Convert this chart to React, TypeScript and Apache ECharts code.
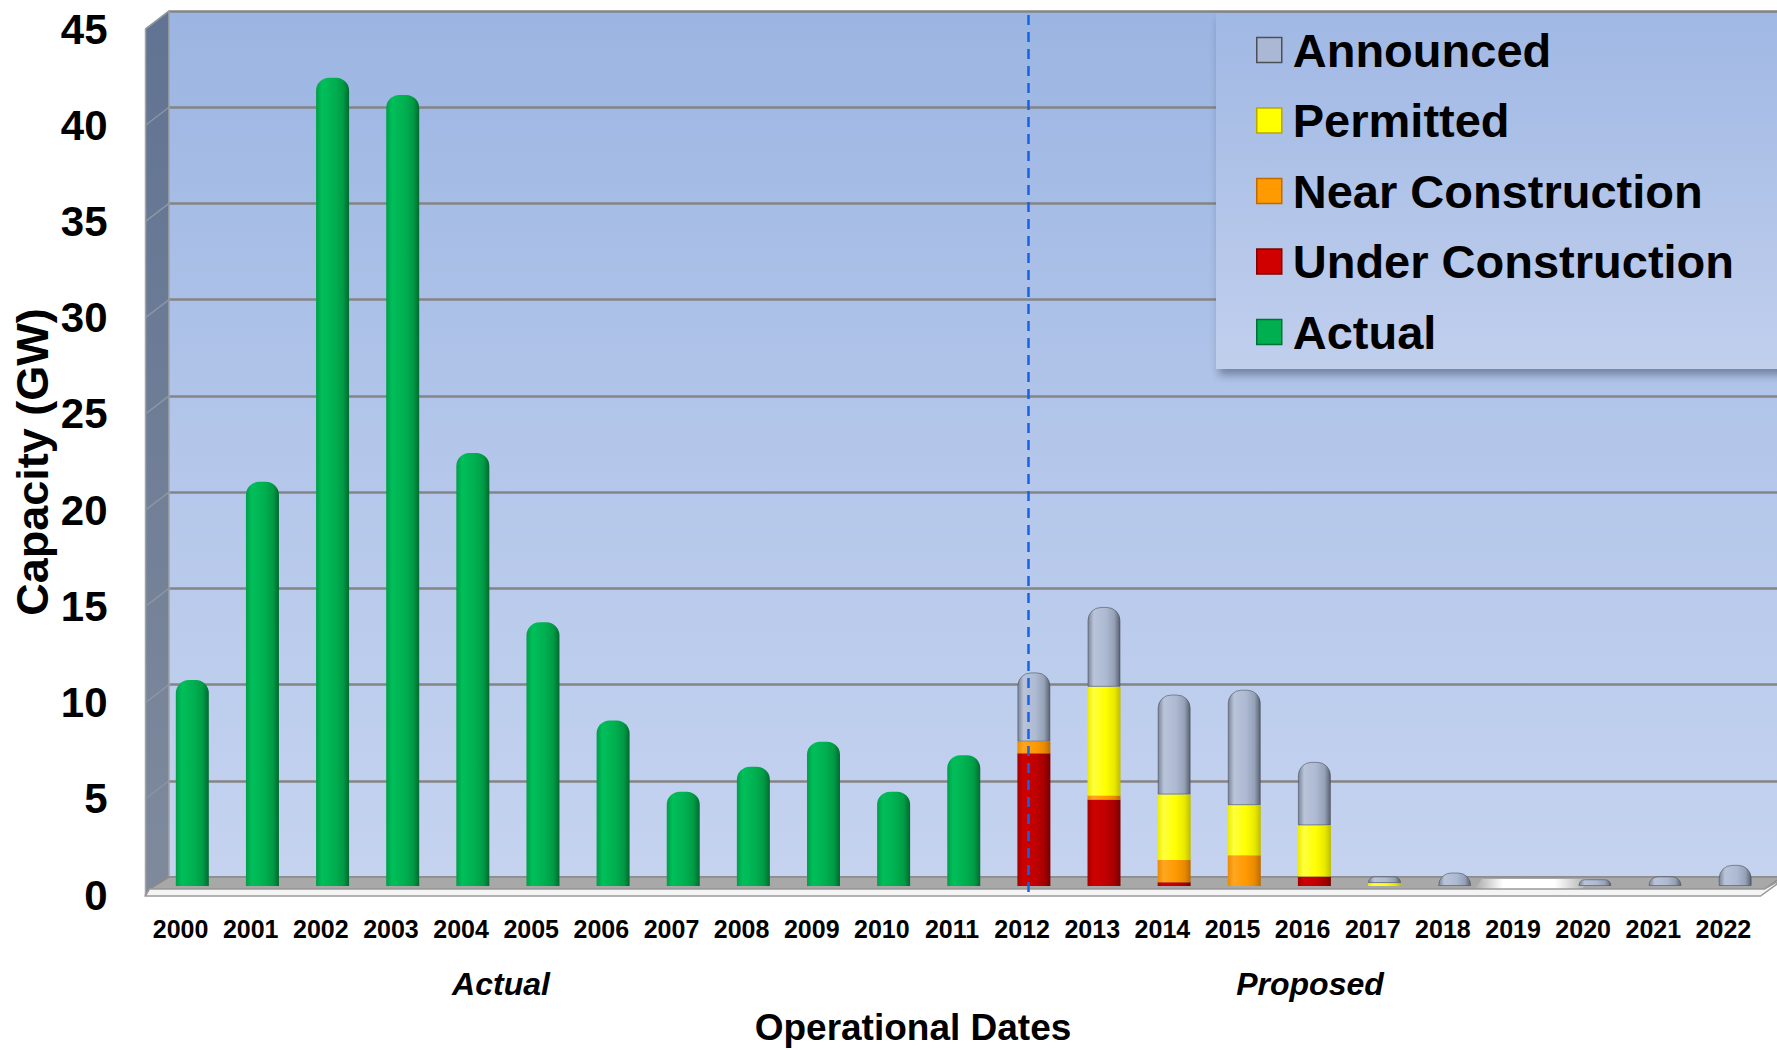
import React, { useEffect, useRef } from "react";
import * as echarts from "echarts";

// ---------- data ----------
const years = [
  "2000", "2001", "2002", "2003", "2004", "2005", "2006", "2007", "2008", "2009", "2010", "2011",
  "2012", "2013", "2014", "2015", "2016", "2017", "2018", "2019", "2020", "2021", "2022",
];
const actual = [10.7, 21.0, 42.0, 41.1, 22.5, 13.7, 8.6, 4.9, 6.2, 7.5, 4.9, 6.8,
  null, null, null, null, null, null, null, null, null, null, null];
const underConstruction = [null, null, null, null, null, null, null, null, null, null, null, null,
  6.9, 4.5, 0.2, null, 0.5, null, null, null, null, null, null];
const nearConstruction = [null, null, null, null, null, null, null, null, null, null, null, null,
  0.6, 0.2, 1.15, 1.6, null, null, null, null, null, null, null];
const permitted = [null, null, null, null, null, null, null, null, null, null, null, null,
  null, 5.65, 3.4, 2.6, 2.65, 0.15, null, null, null, null, null];
const announced = [null, null, null, null, null, null, null, null, null, null, null, null,
  3.6, 4.15, 5.2, 6.0, 3.3, 0.35, 0.7, null, 0.35, 0.5, 1.1];
const legendOrder = ["Announced", "Permitted", "Near Construction", "Under Construction", "Actual"];
const yMax = 45;
const yStep = 5;

// ---------- layout ----------
const W = 1777;
const H = 1050;
const BACK_L = 169;
const BACK_TOP = 11;
const BACK_BOTTOM = 877;
const DX = 23.5;
const DY = 18;
const FRONT_L = BACK_L - DX;
const PLOT_W = 1613;
const PLOT_H = BACK_BOTTOM - BACK_TOP;
const FONT = 'Arial, "Liberation Sans", Helvetica, sans-serif';

function cyl(c: string[]) {
  return new echarts.graphic.LinearGradient(0, 0, 1, 0, [
    { offset: 0, color: c[0] },
    { offset: 0.18, color: c[1] },
    { offset: 0.55, color: c[2] },
    { offset: 0.82, color: c[3] },
    { offset: 1, color: c[4] },
  ]);
}

const GREEN = ["#009e48", "#00bf5a", "#00b050", "#009a45", "#006a30"];
const RED = ["#a30000", "#cf0000", "#c00000", "#a40000", "#760000"];
const ORANGE = ["#ec8a00", "#ffa620", "#ff9900", "#e88a00", "#b86a00"];
const YELLOW = ["#ecec00", "#ffff40", "#ffff00", "#e8e800", "#bdbd00"];
const GREY = ["#7a8598", "#b9c4da", "#aebad2", "#95a1b6", "#5a6270"];

export default function App() {
  const ref = useRef<HTMLDivElement>(null);
  useEffect(() => {
    const chart = echarts.init(ref.current!, null, { renderer: "svg" });

    const sideLines: any[] = [];
    for (let v = 0; v <= yMax; v += yStep) {
      const y = BACK_BOTTOM - (v / yMax) * PLOT_H;
      sideLines.push({
        type: "line",
        z: 1,
        shape: { x1: BACK_L, y1: y, x2: FRONT_L, y2: y + DY },
        style: { stroke: "#8d95a3", lineWidth: 1.5 },
      });
    }

    const frontBottom = BACK_BOTTOM + DY + 1;
    const floorFrontTop = BACK_BOTTOM + 12;
    const frontR = FRONT_L + PLOT_W;

    const bar = (name: string, data: any[], colors: string[], top: boolean, extra: any = {}) => ({
      name,
      type: "bar",
      stack: "cap",
      xAxisIndex: 2,
      yAxisIndex: 2,
      barWidth: 33,
      z: 3,
      data,
      itemStyle: {
        color: cyl(colors),
        borderRadius: top ? [13, 13, 0, 0] : 0,
        ...extra,
      },
    });

    const option: any = {
      animation: false,
      backgroundColor: "#ffffff",
      textStyle: { fontFamily: FONT },
      grid: [
        {
          left: BACK_L, top: BACK_TOP, width: W - BACK_L + 10, height: PLOT_H,
          show: true, borderWidth: 0,
          backgroundColor: new echarts.graphic.LinearGradient(0, 0, 0, 1, [
            { offset: 0, color: "#9bb5e2" },
            { offset: 0.5, color: "#b3c6ea" },
            { offset: 1, color: "#c5d3ef" },
          ]),
        },
        { left: FRONT_L, top: BACK_TOP + DY, width: PLOT_W, height: PLOT_H },
        { left: FRONT_L + DX / 2, top: BACK_TOP + DY / 2, width: PLOT_W, height: PLOT_H },
        { left: FRONT_L + 6, top: 13, width: PLOT_W, height: 879 },
      ],
      xAxis: [
        { gridIndex: 0, type: "category", data: years, show: false },
        {
          gridIndex: 1, type: "category", data: years, boundaryGap: true,
          axisLine: { show: true, lineStyle: { color: "#8c8c8c", width: 2 } },
          axisTick: { show: true, inside: true, length: 8, lineStyle: { color: "#9a9a9a", width: 1.5 } },
          axisLabel: {
            interval: 0, margin: 21, color: "#000",
            fontSize: 25, fontWeight: "bold", fontFamily: FONT,
          },
        },
        { gridIndex: 2, type: "category", data: years, show: false },
        { gridIndex: 3, type: "category", data: years, show: false },
      ],
      yAxis: [
        {
          gridIndex: 0, type: "value", min: 0, max: yMax, interval: yStep,
          axisLine: { show: false }, axisTick: { show: false }, axisLabel: { show: false },
          splitLine: { show: true, lineStyle: { color: "#858585", width: 2.5 } },
        },
        {
          gridIndex: 1, type: "value", min: 0, max: yMax, interval: yStep,
          axisLine: { show: false }, axisTick: { show: false }, splitLine: { show: false },
          axisLabel: {
            margin: 38, color: "#000", fontSize: 42, fontWeight: "bold", fontFamily: FONT,
          },
        },
        { gridIndex: 2, type: "value", min: 0, max: yMax, show: false, splitLine: { show: false } },
        { gridIndex: 3, type: "value", min: 0, max: 1, show: false, splitLine: { show: false } },
      ],
      legend: {
        orient: "vertical",
        left: 1216,
        top: 13,
        padding: [12, 90, 12, 40],
        itemWidth: 25,
        itemHeight: 25,
        itemGap: 20.5,
        icon: "rect",
        selectedMode: false,
        backgroundColor: new echarts.graphic.LinearGradient(0, 0, 0, 1, [
          { offset: 0, color: "#a0b8e4" },
          { offset: 1, color: "#c1cfed" },
        ]),
        shadowColor: "rgba(40,50,70,0.45)",
        shadowBlur: 8,
        shadowOffsetX: 3,
        shadowOffsetY: 6,
        textStyle: {
          color: "#000", fontSize: 47, fontWeight: "bold", fontFamily: FONT,
          lineHeight: 50, padding: [0, 0, 0, 6],
        },
        data: [
          { name: "Announced", itemStyle: { color: "#aab8d3", borderColor: "#4a4f58", borderWidth: 1.5 } },
          { name: "Permitted", itemStyle: { color: "#ffff00", borderColor: "#b8a800", borderWidth: 1.5 } },
          { name: "Near Construction", itemStyle: { color: "#ff9a00", borderColor: "#c06a00", borderWidth: 1.5 } },
          { name: "Under Construction", itemStyle: { color: "#d00000", borderColor: "#800000", borderWidth: 1.5 } },
          { name: "Actual", itemStyle: { color: "#00b050", borderColor: "#00703a", borderWidth: 1.5 } },
        ].filter((d) => legendOrder.includes(d.name)),
      },
      series: [
        bar("Actual", actual, GREEN, true),
        bar("Under Construction", underConstruction, RED, false),
        bar("Near Construction", nearConstruction, ORANGE, false),
        bar("Permitted", permitted, YELLOW, false),
        bar("Announced", announced, GREY, true, { borderColor: "rgba(70,75,85,0.55)", borderWidth: 1 }),
        {
          name: "divider",
          type: "line",
          xAxisIndex: 3,
          yAxisIndex: 3,
          data: years.map(() => null),
          showSymbol: false,
          z: 6,
          silent: true,
          markLine: {
            silent: true,
            symbol: "none",
            label: { show: false },
            lineStyle: { color: "#1862e6", width: 2.5, type: [10, 7] },
            data: [{ xAxis: "2012" }],
          },
        },
      ],
      graphic: [
        // side wall
        {
          type: "polygon",
          z: 1,
          shape: {
            points: [
              [FRONT_L, BACK_TOP + DY], [BACK_L, BACK_TOP],
              [BACK_L, BACK_BOTTOM], [FRONT_L, BACK_BOTTOM + DY],
            ],
          },
          style: {
            fill: new echarts.graphic.LinearGradient(0, 0, 0, 1, [
              { offset: 0, color: "#607392" },
              { offset: 1, color: "#7f8a9c" },
            ]),
            stroke: "#a3a3a3",
            lineWidth: 1.5,
          },
        },
        ...sideLines,
        // floor top surface
        {
          type: "polygon",
          z: 1,
          shape: {
            points: [
              [BACK_L, BACK_BOTTOM], [W + 5, BACK_BOTTOM],
              [frontR + 6, floorFrontTop], [FRONT_L + 4, floorFrontTop],
            ],
          },
          style: { fill: "#a8a8a8", stroke: "#8a8a8a", lineWidth: 1.5 },
        },
        // floor shine artifact
        {
          type: "polygon",
          z: 1,
          shape: {
            points: [[1482, BACK_BOTTOM + 2], [1590, BACK_BOTTOM + 2], [1582, floorFrontTop], [1474, floorFrontTop]],
          },
          style: {
            fill: new echarts.graphic.LinearGradient(0, 0, 1, 0, [
              { offset: 0, color: "rgba(255,255,255,0)" },
              { offset: 0.25, color: "rgba(255,255,255,1)" },
              { offset: 0.7, color: "rgba(255,255,255,1)" },
              { offset: 1, color: "rgba(255,255,255,0)" },
            ]),
          },
        },
        // floor front face
        {
          type: "polygon",
          z: 1,
          shape: {
            points: [
              [FRONT_L + 4, floorFrontTop], [frontR + 6, floorFrontTop],
              [W, BACK_BOTTOM + 5], [W, BACK_BOTTOM + 7],
              [frontR + 2, frontBottom], [FRONT_L, frontBottom],
            ],
          },
          style: { fill: "#f4f4f4", stroke: "#9a9a9a", lineWidth: 1.5 },
        },
        // titles
        {
          type: "text",
          z: 5,
          x: 32,
          y: BACK_TOP + DY + PLOT_H / 2,
          rotation: Math.PI / 2,
          style: {
            text: "Capacity (GW)", fill: "#000",
            font: `bold 45px ${FONT}`, align: "center", verticalAlign: "middle",
          },
        },
        {
          type: "text",
          z: 5,
          x: 913,
          y: 1027,
          style: {
            text: "Operational Dates", fill: "#000",
            font: `bold 37px ${FONT}`, align: "center", verticalAlign: "middle",
          },
        },
        {
          type: "text",
          z: 5,
          x: 501,
          y: 984,
          style: {
            text: "Actual", fill: "#000",
            font: `italic bold 32px ${FONT}`, align: "center", verticalAlign: "middle",
          },
        },
        {
          type: "text",
          z: 5,
          x: 1310,
          y: 984,
          style: {
            text: "Proposed", fill: "#000",
            font: `italic bold 32px ${FONT}`, align: "center", verticalAlign: "middle",
          },
        },
      ],
    };

    chart.setOption(option);
    return () => chart.dispose();
  }, []);

  return (
    <div
      ref={ref}
      style={{ position: "absolute", left: 0, top: 0, width: W, height: H }}
    />
  );
}
